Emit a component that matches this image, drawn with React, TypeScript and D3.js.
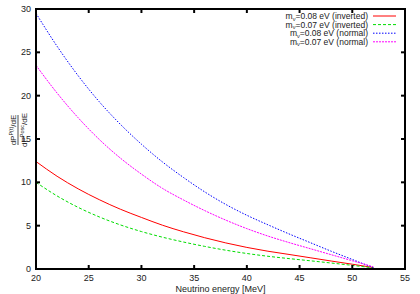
import React from "react";
import * as d3 from "d3";

const energies = [20, 22, 24, 26, 28, 30, 32, 34, 36, 38, 40, 42, 44, 46, 48, 50, 52];
const inv008 = [12.4, 10.7, 9.25, 8.0, 6.9, 5.95, 5.05, 4.29, 3.61, 3.01, 2.49, 2.05, 1.68, 1.3, 0.92, 0.55, 0.17];
const inv007 = [10.0, 8.43, 7.11, 6.01, 5.09, 4.32, 3.67, 3.11, 2.61, 2.17, 1.79, 1.47, 1.2, 0.95, 0.69, 0.42, 0.13];
const nor008 = [29.5, 25.7, 22.3, 19.3, 16.7, 14.4, 12.35, 10.55, 8.9, 7.45, 6.2, 5.1, 4.05, 3.05, 2.05, 1.1, 0.15];
const nor007 = [23.5, 20.3, 17.45, 14.95, 12.8, 10.95, 9.3, 7.96, 6.74, 5.64, 4.66, 3.8, 3.05, 2.35, 1.65, 0.95, 0.25];

const xTicks = [20, 25, 30, 35, 40, 45, 50, 55];
const yTicks = [0, 5, 10, 15, 20, 25, 30];

const seriesNames = ["0.08 eV (inverted)", "0.07 eV (inverted)", "0.08 eV (normal)", "0.07 eV (normal)"];
const seriesData = [inv008, inv007, nor008, nor007];
const seriesColors = ["#ff0000", "#00dd00", "#0000ff", "#ff00ff"];
const seriesDash = ["", "3,2", "1.5,1.5", "2,1"];

export default function App() {
  const W = 420, H = 294;
  const left = 36, right = 405, top = 9, bottom = 269;
  const x = d3.scaleLinear().domain([20, 55]).range([left, right]);
  const y = d3.scaleLinear().domain([0, 30]).range([bottom, top]);
  const line = d3.line<number>()
    .x((_, i) => x(energies[i]))
    .y((d) => y(d))
    .curve(d3.curveMonotoneX);
  const font = "'Liberation Sans', Arial, sans-serif";
  const tl = 4;
  return (
    <svg width={W} height={H} style={{ position: "absolute", left: 0, top: 0, background: "#fff" }} fontFamily={font}>
      {seriesData.map((s, i) => (
        <path key={i} d={line(s) || ""} fill="none" stroke={seriesColors[i]} strokeWidth={1} strokeDasharray={seriesDash[i]} />
      ))}
      <rect x={left} y={top} width={right - left} height={bottom - top} fill="none" stroke="#000" strokeWidth={2} />
      {xTicks.map((t) => (
        <g key={"x" + t}>
          <line x1={x(t)} x2={x(t)} y1={bottom} y2={bottom - tl} stroke="#000" strokeWidth={2} />
          <line x1={x(t)} x2={x(t)} y1={top} y2={top + tl} stroke="#000" strokeWidth={2} />
          <text x={x(t)} y={281} fontSize={9} textAnchor="middle" fill="#222">{t}</text>
        </g>
      ))}
      {yTicks.map((t) => (
        <g key={"y" + t}>
          <line x1={left} x2={left + tl} y1={y(t)} y2={y(t)} stroke="#000" strokeWidth={2} />
          <line x1={right} x2={right - tl} y1={y(t)} y2={y(t)} stroke="#000" strokeWidth={2} />
          <text x={31} y={y(t) + 3} fontSize={9} textAnchor="end" fill="#222">{t}</text>
        </g>
      ))}
      <text x={(left + right) / 2} y={292} fontSize={9} textAnchor="middle" fill="#222">Neutrino energy [MeV]</text>
      <g transform="translate(18,130) rotate(-90)" fill="#222">
        <text x={0} y={-2} fontSize={8} textAnchor="middle">
          dP<tspan fontSize={5.5} dy={-3}>P(t)</tspan><tspan dy={3}>/dE</tspan>
        </text>
        <line x1={-15} x2={15} y1={0} y2={0} stroke="#222" strokeWidth={0.8} />
        <text x={0} y={8.5} fontSize={8} textAnchor="middle">
          dP<tspan fontSize={5.5} dy={-2.5}>Posc</tspan><tspan dy={2.5}>/dE</tspan>
        </text>
      </g>
      {seriesNames.map((n, i) => {
        const ly = 16 + i * 8.6;
        return (
          <g key={"l" + i}>
            <text x={368} y={ly + 3} fontSize={8.5} textAnchor="end" fill="#222">
              m<tspan fontSize={5.5} dy={1.5}>ν</tspan><tspan dy={-1.5}>={n}</tspan>
            </text>
            <line x1={373} x2={396} y1={ly} y2={ly} stroke={seriesColors[i]} strokeWidth={1} strokeDasharray={seriesDash[i]} />
          </g>
        );
      })}
    </svg>
  );
}
